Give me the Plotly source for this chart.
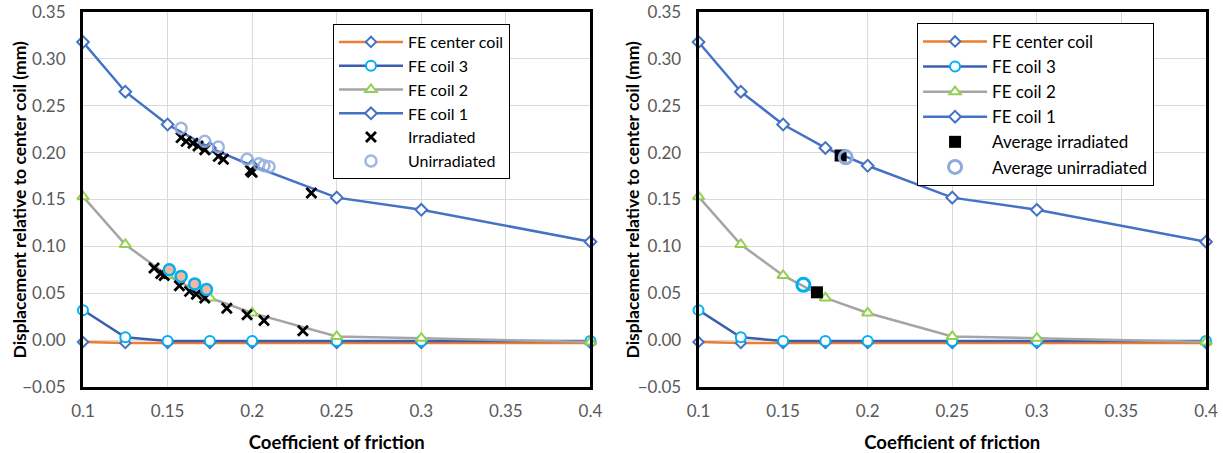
import plotly.graph_objects as go
from plotly.subplots import make_subplots

# Finite-element results: displacement vs. coefficient of friction
friction = [0.1, 0.125, 0.15, 0.175, 0.2, 0.25, 0.3, 0.4]
fe_center_coil = [-0.002, -0.003, -0.003, -0.003, -0.003, -0.003, -0.003, -0.003]
fe_coil_3 = [0.032, 0.003, -0.001, -0.001, -0.001, -0.001, -0.001, -0.001]
fe_coil_2 = [0.153, 0.102, 0.069, 0.045, 0.029, 0.004, 0.002, -0.002]
fe_coil_1 = [0.318, 0.265, 0.230, 0.205, 0.186, 0.152, 0.139, 0.105]

# Measured displacements, coil 1 group
irr_c1_mu = [0.158, 0.161, 0.165, 0.168, 0.172, 0.180, 0.183, 0.199, 0.200, 0.235]
irr_c1_d = [0.216, 0.212, 0.210, 0.207, 0.203, 0.196, 0.193, 0.181, 0.179, 0.157]
unirr_c1_mu = [0.158, 0.172, 0.180, 0.197, 0.204, 0.207, 0.210]
unirr_c1_d = [0.226, 0.212, 0.206, 0.193, 0.188, 0.186, 0.185]

# Measured displacements, coil 2 group
irr_c2_mu = [0.142, 0.146, 0.148, 0.157, 0.163, 0.167, 0.172, 0.185, 0.197, 0.207, 0.230]
irr_c2_d = [0.077, 0.071, 0.069, 0.058, 0.052, 0.049, 0.045, 0.034, 0.027, 0.021, 0.010]
unirr_c2_mu = [0.151, 0.158, 0.166, 0.173]
unirr_c2_d = [0.075, 0.068, 0.060, 0.054]

# Group averages
avg_irr_mu = [0.184, 0.170]
avg_irr_d = [0.197, 0.051]
avg_unirr_mu = [0.187]
avg_unirr_d = [0.195]
avg_unirr_c2_mu = [0.162]
avg_unirr_c2_d = [0.059]

Y_TITLE = "<b>Displacement relative to center coil (mm)</b>"
X_TITLE = "<b>Coefficient of friction</b>"

FONT = "Lato"
BLUE = "#4472C4"
DARK_BLUE = "#3A5FAE"
ORANGE = "#ED7D31"
GRAY = "#A5A5A5"
GREEN = "#92D050"
CYAN = "#00B0F0"
LIGHT_BLUE = "#8FAADC"

fig = make_subplots(rows=1, cols=2, horizontal_spacing=0.0962)


def fe_traces(col, legend):
    specs = [
        ("FE center coil", fe_center_coil, ORANGE, "diamond", BLUE, 8),
        ("FE coil 3", fe_coil_3, DARK_BLUE, "circle", CYAN, 10),
        ("FE coil 2", fe_coil_2, GRAY, "triangle-up", GREEN, 10),
        ("FE coil 1", fe_coil_1, BLUE, "diamond", BLUE, 9),
    ]
    for name, ys, lc, sym, mc, ms in specs:
        fig.add_trace(go.Scatter(
            x=friction, y=ys, name=name, mode="lines+markers",
            line=dict(color=lc, width=2.5),
            marker=dict(symbol=sym, size=ms, color="white",
                        line=dict(color=mc, width=2)),
            legend=legend, cliponaxis=False,
        ), row=1, col=col)


# Left panel: individual measurements
fe_traces(1, "legend")
fig.add_trace(go.Scatter(
    x=irr_c1_mu + irr_c2_mu, y=irr_c1_d + irr_c2_d, name="Irradiated",
    mode="markers",
    marker=dict(symbol="x-thin", size=10, color="black",
                line=dict(color="black", width=2.8)),
    legend="legend",
), row=1, col=1)
fig.add_trace(go.Scatter(
    x=unirr_c1_mu, y=unirr_c1_d, name="Unirradiated", mode="markers",
    marker=dict(symbol="circle-open", size=11, color=LIGHT_BLUE,
                line=dict(width=2.5)),
    opacity=0.85, legend="legend",
), row=1, col=1)
fig.add_trace(go.Scatter(
    x=unirr_c2_mu, y=unirr_c2_d, name="Unirradiated (coil 2)", mode="markers",
    marker=dict(symbol="circle", size=11, color="#F4B8A0",
                line=dict(color=CYAN, width=2.5)),
    showlegend=False, legend="legend",
), row=1, col=1)

# Right panel: averages
fe_traces(2, "legend2")
fig.add_trace(go.Scatter(
    x=avg_irr_mu, y=avg_irr_d, name="Average irradiated", mode="markers",
    marker=dict(symbol="square", size=12, color="black"),
    legend="legend2",
), row=1, col=2)
fig.add_trace(go.Scatter(
    x=avg_unirr_mu, y=avg_unirr_d, name="Average unirradiated", mode="markers",
    marker=dict(symbol="circle-open", size=13, color=LIGHT_BLUE,
                line=dict(width=3)),
    legend="legend2",
), row=1, col=2)
fig.add_trace(go.Scatter(
    x=avg_unirr_c2_mu, y=avg_unirr_c2_d, name="Average unirradiated (coil 2)",
    mode="markers",
    marker=dict(symbol="circle-open", size=13, color=CYAN, line=dict(width=3)),
    showlegend=False, legend="legend2",
), row=1, col=2)

axis_common = dict(
    showline=True, mirror=True, linecolor="black", linewidth=3,
    showgrid=True, gridcolor="#D9D9D9", gridwidth=1, zeroline=False,
    tickfont=dict(family=FONT, size=17, color="#595959"),
    ticks="outside", tickcolor="rgba(0,0,0,0)", automargin=False,
)
for c in (1, 2):
    fig.update_xaxes(
        range=[0.1, 0.4], tickmode="linear", tick0=0.1, dtick=0.05, ticklen=7,
        title=dict(text=X_TITLE, standoff=18,
                   font=dict(family=FONT, size=18.5, color="black")),
        row=1, col=c, **axis_common)
    fig.update_yaxes(
        range=[-0.05, 0.35], tickmode="linear", tick0=-0.05, dtick=0.05,
        tickformat=".2f", ticklen=11,
        row=1, col=c, **axis_common)

# Vertical axis titles, one beside each panel's tick labels
for xpos in (-0.0561, 0.4889):
    fig.add_annotation(
        text=Y_TITLE, textangle=-90, xref="paper", yref="paper",
        x=xpos, y=0.5, xanchor="center", yanchor="middle", showarrow=False,
        font=dict(family=FONT, size=17.5, color="black"),
    )

legend_style = dict(
    bgcolor="white", bordercolor="black", borderwidth=1,
    xanchor="left", yanchor="top", tracegroupgap=0, itemwidth=64,
)
fig.update_layout(
    width=1223, height=453,
    margin=dict(l=83, r=17, t=12, b=66, autoexpand=False),
    paper_bgcolor="white", plot_bgcolor="white",
    font=dict(family=FONT),
    legend=dict(x=0.2226, y=0.968,
                font=dict(family=FONT, size=16, color="black"),
                **legend_style),
    legend2=dict(x=0.7427, y=0.971,
                 font=dict(family=FONT, size=17, color="black"),
                 **legend_style),
)

fig.write_html("out.html")
